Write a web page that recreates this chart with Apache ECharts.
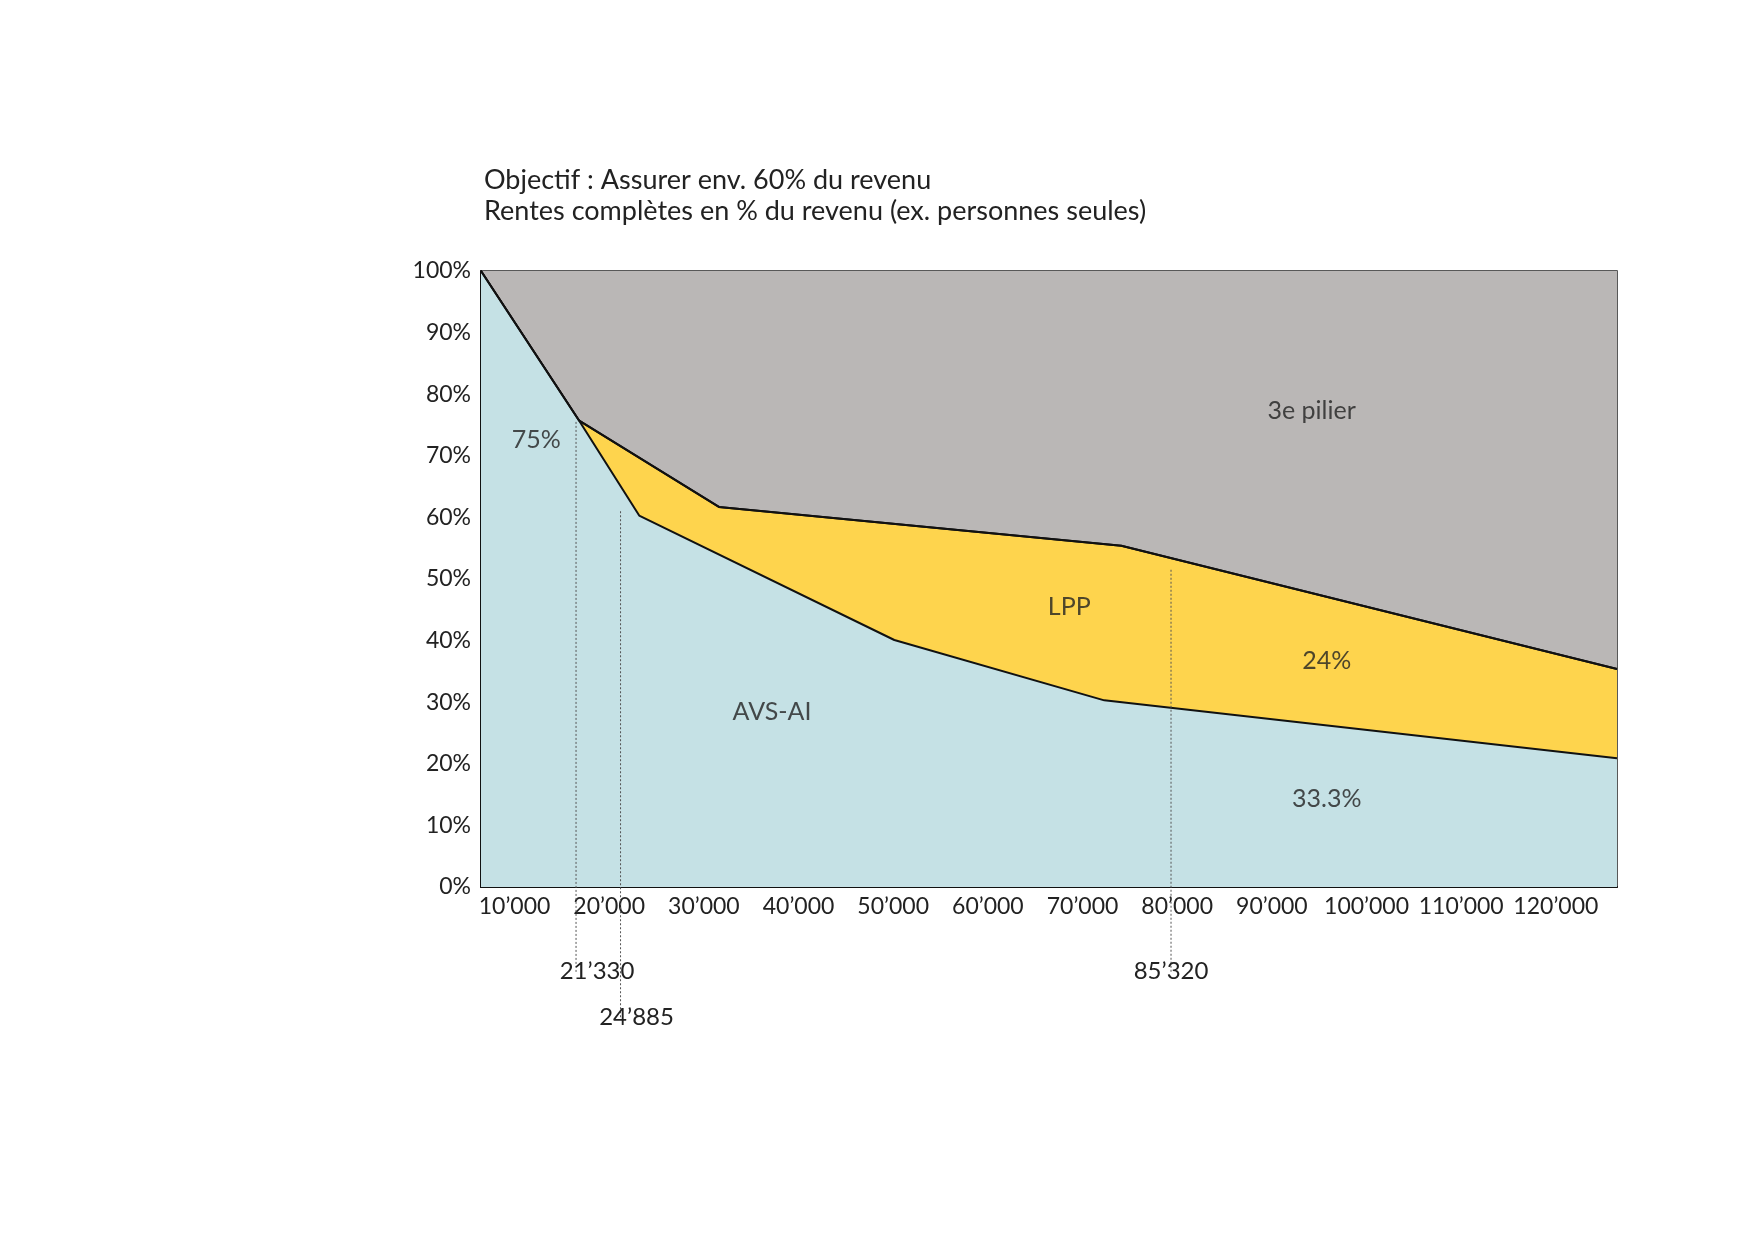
<!DOCTYPE html>
<html><head><meta charset="utf-8">
<script src="https://cdn.jsdelivr.net/npm/echarts@6/dist/echarts.min.js"></script>
<style>html,body{margin:0;background:#fff}#c{width:1754px;height:1240px}</style>
</head><body><div id="c"></div>
<script>
// income (CHF) vs rente in % of income
const upperX = [6460, 16830, 31590, 74100, 126460];
const upperY = [100, 75.7, 61.7, 55.4, 35.4];
const lowerX = [6460, 16830, 23170, 50120, 72300, 126460];
const lowerY = [100, 75.7, 60.3, 40.1, 30.3, 20.9];
const xTicks = [10000, 20000, 30000, 40000, 50000, 60000, 70000, 80000, 90000, 100000, 110000, 120000];
const markers = [
  { x: 16500, top: 75.5, bottom: -14, text: "21’330", shift: 21 },
  { x: 21200, top: 61, bottom: -21.5, text: "24’885", shift: 16 },
  { x: 79350, top: 51.5, bottom: -14, text: "85’320", shift: 0 }
];
const areaLabels = [
  { x: 94200, y: 77.3, text: "3e pilier" },
  { x: 68600, y: 45.4, text: "LPP" },
  { x: 95800, y: 36.7, text: "24%" },
  { x: 37200, y: 28.5, text: "AVS-AI" },
  { x: 95800, y: 14.3, text: "33.3%" },
  { x: 12300, y: 72.6, text: "75%" }
];

const font = 'Lato';
const fmt = v => Math.round(v / 1000) + '’000';
const pairs = (xs, ys) => xs.map((x, i) => [x, ys[i]]);

const series = [
  { type: 'line', data: [[6460, 100], [126460, 100]], symbol: 'none', lineStyle: { width: 0 },
    areaStyle: { color: '#bab7b6', opacity: 1 }, z: 1 },
  { type: 'line', data: pairs(upperX, upperY), symbol: 'none',
    lineStyle: { color: '#111', width: 2 }, areaStyle: { color: '#fed44d', opacity: 1 }, z: 2 },
  { type: 'line', data: pairs(lowerX, lowerY), symbol: 'none',
    lineStyle: { color: '#111', width: 2 }, areaStyle: { color: '#c5e1e5', opacity: 1 }, z: 3 },
  { type: 'line', data: pairs(upperX, upperY), symbol: 'none',
    lineStyle: { color: '#111', width: 2 }, z: 4 },
  { type: 'scatter', symbolSize: 0, z: 6,
    data: areaLabels.map(l => ({ value: [l.x, l.y], label: { show: true, formatter: l.text } })),
    label: { position: 'inside', color: '#222', fontSize: 25, fontFamily: font } }
];
markers.forEach(m => {
  series.push({
    type: 'line', clip: false, symbol: 'circle', symbolSize: 0.1, showSymbol: true, z: 5,
    itemStyle: { color: '#555' },
    lineStyle: { color: '#555', width: 1, type: [2, 2] },
    data: [[m.x, m.top], { value: [m.x, m.bottom], label: { show: true, formatter: m.text, offset: [m.shift, 0] } }],
    label: { show: false, position: 'bottom', color: '#222', fontSize: 24, fontFamily: font, distance: -14 }
  });
});

const chart = echarts.init(document.getElementById('c'));
chart.setOption({
  animation: false,
  title: {
    text: 'Objectif : Assurer env. 60% du revenu\nRentes complètes en % du revenu (ex. personnes seules)',
    left: 479, top: 160,
    textStyle: { fontSize: 27, fontWeight: 'normal', color: '#222', fontFamily: font, lineHeight: 31 }
  },
  grid: { left: 481, right: 137, top: 271, bottom: 353, show: true, borderColor: '#222', borderWidth: 1.5 },
  xAxis: {
    type: 'value', min: 6460, max: 126460,
    axisLine: { lineStyle: { color: '#111', width: 2 } },
    axisTick: { show: false },
    splitLine: { show: false },
    axisLabel: { customValues: xTicks, formatter: fmt, color: '#222', fontSize: 23, fontFamily: font, margin: 8 }
  },
  yAxis: {
    type: 'value', min: 0, max: 100, interval: 10,
    axisLine: { show: true, lineStyle: { color: '#111', width: 2 } },
    axisTick: { show: false },
    splitLine: { show: false },
    axisLabel: { formatter: '{value}%', color: '#222', fontSize: 23, fontFamily: font, margin: 10 }
  },
  series
});
</script></body></html>
